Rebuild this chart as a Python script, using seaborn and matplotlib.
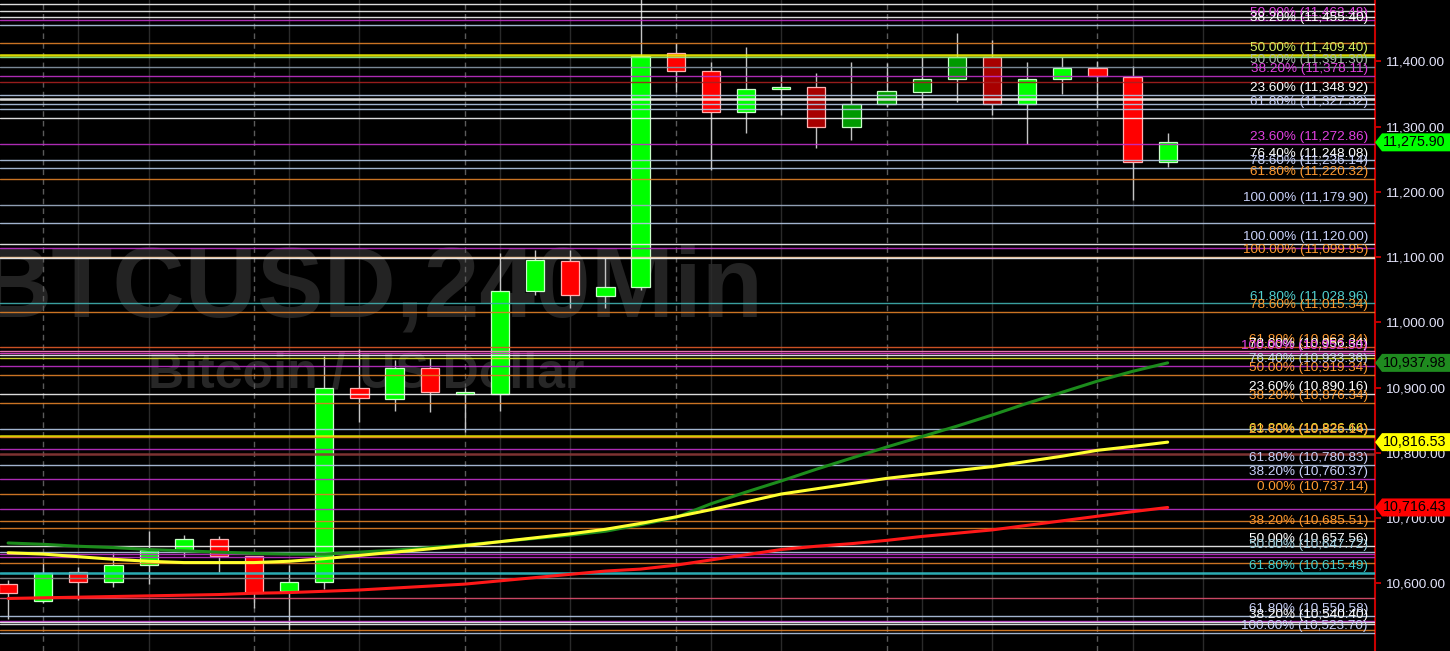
import matplotlib
matplotlib.use("Agg")
import matplotlib.pyplot as plt
import matplotlib.transforms as mtransforms
from matplotlib.patches import Polygon
import numpy as np
import pandas as pd
import seaborn as sns

# BTCUSD 240 min candles (left -> right)
opens = [10599, 10573, 10617, 10602, 10628, 10651, 10668, 10642, 10588, 10602,
         10899, 10882, 10930, 10890, 10891, 11048, 11094, 11040, 11054, 11413,
         11385, 11322, 11357, 11361, 11300, 11335, 11353, 11373, 11407, 11335,
         11373, 11390, 11376, 11246]
highs = [10605, 10631, 10625, 10646, 10681, 10675, 10672, 10642, 10628, 10948,
         10960, 10942, 10945, 10900, 11106, 11111, 11111, 11098, 11500, 11428,
         11399, 11422, 11379, 11382, 11399, 11398, 11407, 11444, 11432, 11399,
         11407, 11400, 11393, 11290]
lows = [10545, 10570, 10574, 10594, 10599, 10640, 10617, 10562, 10528, 10592,
        10847, 10865, 10862, 10832, 10864, 11042, 11022, 11022, 11050, 11353,
        11233, 11290, 11318, 11267, 11280, 11330, 11329, 11338, 11318, 11273,
        11350, 11329, 11187, 11238]
closes = [10586, 10616, 10602, 10628, 10652, 10668, 10642, 10585, 10602, 10899,
          10884, 10930, 10893, 10892, 11048, 11096, 11042, 11055, 11408, 11385,
          11322, 11358, 11361, 11300, 11335, 11355, 11373, 11407, 11335, 11373,
          11390, 11378, 11246, 11275.90]
dim_bars = [23, 24, 25, 26, 27, 28]

# moving averages
ma_green = [10662, 10660, 10657, 10655, 10652, 10650, 10648, 10646, 10645, 10645,
            10648, 10651, 10655, 10659, 10664, 10669, 10674, 10680, 10690, 10701,
            10722, 10740, 10757, 10775, 10792, 10809, 10825, 10841, 10858, 10876,
            10893, 10910, 10925, 10937.98]
ma_yellow = [10647, 10645, 10641, 10637, 10634, 10632, 10632, 10632, 10634, 10638,
             10643, 10648, 10653, 10658, 10664, 10670, 10676, 10683, 10692, 10702,
             10713, 10725, 10737, 10745, 10753, 10761, 10767, 10773, 10779, 10787,
             10795, 10804, 10810, 10816.53]
ma_red = [10577, 10578, 10579, 10580, 10581, 10582, 10583, 10585, 10586, 10588,
          10590, 10593, 10596, 10599, 10604, 10609, 10614, 10619, 10622, 10628,
          10636, 10644, 10652, 10657, 10661, 10666, 10672, 10677, 10682, 10689,
          10696, 10703, 10710, 10716.43]

# fibonacci levels
level_prices = [11488.0, 11477.5, 11468.0, 11463.48, 11455.40, 11428.8, 11409.40, 11407.0,
                11391.30, 11378.11, 11369.0, 11348.92, 11342.0, 11334.4, 11327.32, 11313.0,
                11272.86, 11248.08, 11236.14, 11220.32, 11179.90, 11151.8, 11120.00, 11113.5,
                11099.95, 11098.0, 11028.96, 11015.34, 10962.34, 10956.34, 10952.50, 10950.0,
                10944.8, 10933.36, 10919.34, 10890.16, 10876.34, 10836.3, 10826.66, 10825.14,
                10806.7, 10798.0, 10780.83, 10760.37, 10737.14, 10713.7, 10695.0, 10685.51,
                10657.56, 10647.72, 10645.7, 10640.5, 10631.3, 10615.49, 10609.0, 10578.0,
                10550.58, 10542.3, 10540.40, 10537.3, 10528.0, 10523.70]
level_pcts = ["", "", "", "50.00%", "38.20%", "", "50.00%", "",
              "50.00%", "38.20%", "", "23.60%", "", "", "61.80%", "",
              "23.60%", "76.40%", "78.60%", "61.80%", "100.00%", "", "100.00%", "",
              "100.00%", "", "61.80%", "78.60%", "61.80%", "78.60%", "100.00%", "",
              "", "76.40%", "50.00%", "23.60%", "38.20%", "", "61.80%", "23.60%",
              "", "", "61.80%", "38.20%", "0.00%", "", "", "38.20%",
              "50.00%", "50.00%", "", "", "", "61.80%", "", "",
              "61.80%", "", "38.20%", "", "", "100.00%"]

WH, LB, MG, OR = "#f4f4f4", "#b4c8e6", "#c030c8", "#e08028"
line_colors = [WH, WH, WH, MG, LB, OR, "#f0f000", "#90f090",
               "#8898a8", MG, "#a82020", LB, WH, LB, LB, WH,
               MG, LB, LB, OR, "#a0b0c8", LB, WH, MG,
               "#ffd0a0", WH, "#40b0b0", OR, "#e05a28", "#ff80c0", "#e040d0", WH,
               "#e8e830", MG, OR, WH, OR, LB, "#f0f000", OR,
               MG, "#8a3838", LB, MG, OR, MG, OR, OR,
               WH, LB, MG, MG, OR, "#30c0c8", "#8a8a8a", "#e05070",
               LB, MG, WH, WH, OR, LB]
TW, TL, TM, TO = "#ffffff", "#c8d0f8", "#e040e0", "#ff9a30"
text_colors = [None, None, None, TM, TW, None, "#d8f060", None,
               "#a8b8a8", TM, None, TW, None, None, TL, None,
               TM, TW, TL, TO, TL, None, TL, None,
               TO, None, "#50d0d0", TO, TO, TW, TM, None,
               None, TL, TO, TW, TO, None, "#f0f040", TO,
               None, None, TL, TL, TO, None, None, TO,
               TW, "#a0d0e0", None, None, None, "#40d0d0", None, None,
               TL, None, TW, None, None, TL]
thick_levels = [6, 12, 38, 41, 53]

price_ticks = [10600, 10700, 10800, 10900, 11000, 11100, 11200, 11300, 11400]
day_lines = [1, 7, 13, 19, 25, 31]
hour_lines = [2, 4, 8, 10, 14, 16, 20, 22, 26, 28, 32, 34]

tag_values = [11275.90, 10937.98, 10816.53, 10716.43]
tag_colors = ["#00ff00", "#1f8a1f", "#ffff00", "#ff0000"]

sns.set_theme(style="dark", rc={"axes.facecolor": "black", "figure.facecolor": "black"})
plt.rcParams["font.family"] = ["Liberation Sans", "DejaVu Sans"]

fig = plt.figure(figsize=(14.5, 6.51), dpi=100)
ax = fig.add_axes([0, 0, 1375 / 1450, 1])
ax.set_facecolor("black")
ax.set_xlim(-0.23, 38.9)
ax.set_ylim(10496.5, 11494)
ax.grid(False)

# watermark
ax.text(-0.015, 0.514, "BTCUSD,240Min", transform=ax.transAxes, fontsize=72,
        fontweight="bold", color="#232323", ha="left", va="baseline", zorder=0.5)
ax.text(0.1076, 0.404, "Bitcoin / US Dollar", transform=ax.transAxes, fontsize=36,
        fontweight="bold", color="#272727", ha="left", va="baseline", zorder=0.5)

# vertical grid
for i in day_lines:
    ax.axvline(i, color="#5a5a5a", lw=1, ls=(0, (4, 3)), zorder=1)
for i in hour_lines:
    ax.axvline(i, color="#2a2a2a", lw=1, zorder=1)

# candles
idx = np.arange(len(opens))
o = np.array(opens)
c = np.array(closes)
up = c >= o
body_colors = []
edge_colors = []
for i in idx:
    if i in dim_bars:
        body_colors.append("#009a00" if up[i] else "#a80000")
    else:
        body_colors.append("#00ff00" if up[i] else "#ff0000")
    edge_colors.append("#c8ffc8" if up[i] else "#ffb0b0")
ax.vlines(idx, lows, highs, color="#c4c4c4", lw=1, zorder=2)
ax.bar(idx, np.maximum(np.abs(c - o), 4), bottom=np.minimum(o, c), width=0.52,
       color=body_colors, edgecolor=edge_colors, linewidth=0.9, zorder=3)

# fibonacci lines + labels
bt = mtransforms.blended_transform_factory(ax.transAxes, ax.transData)
for k, p in enumerate(level_prices):
    lw = 1.8 if k in thick_levels else 1.0
    ax.axhline(p, color=line_colors[k], lw=lw, alpha=0.9, zorder=4)
for k, p in enumerate(level_prices):
    if level_pcts[k]:
        ax.text(0.9949, p + 1.5, f"{level_pcts[k]} ({p:,.2f})", transform=bt,
                ha="right", va="bottom", fontsize=9.7, color=text_colors[k], zorder=6)

# moving averages
ma = pd.DataFrame({"bar": idx, "green": ma_green, "yellow": ma_yellow, "red": ma_red})
sns.lineplot(data=ma, x="bar", y="green", color="#1c8c1c", lw=2.2, ax=ax, zorder=5)
sns.lineplot(data=ma, x="bar", y="yellow", color="#ffff30", lw=2.2, ax=ax, zorder=5)
sns.lineplot(data=ma, x="bar", y="red", color="#ff1818", lw=2.2, ax=ax, zorder=5)

# axis
ax.set_xlabel("")
ax.set_ylabel("")
ax.set_xticks([])
ax.yaxis.tick_right()
ax.set_yticks(price_ticks)
ax.set_yticklabels([f"{v:,.2f}" for v in price_ticks])
ax.tick_params(axis="y", which="both", right=True, left=False, length=4, width=1.2,
               color="#e00000", labelcolor="#e2e2f8", labelsize=9.7, pad=3)
for s in ["left", "top", "bottom"]:
    ax.spines[s].set_visible(False)
ax.spines["right"].set_visible(True)
ax.spines["right"].set_color("#c80000")
ax.spines["right"].set_linewidth(1.5)

# price tags
hh = 9 / 0.6526
x1 = 1 + 7 / 1375
x2 = 1460 / 1375
for v, col in zip(tag_values, tag_colors):
    ax.add_patch(Polygon([(1.0, v), (x1, v + hh), (x2, v + hh), (x2, v - hh), (x1, v - hh)],
                         transform=bt, closed=True, facecolor=col, edgecolor="none",
                         clip_on=False, zorder=10))
    ax.text(x1 + 1 / 1375, v, f"{v:,.2f}", transform=bt, ha="left", va="center",
            fontsize=10.3, color="#000000", clip_on=False, zorder=11)

fig.savefig("out.png", dpi=100, facecolor="black")
